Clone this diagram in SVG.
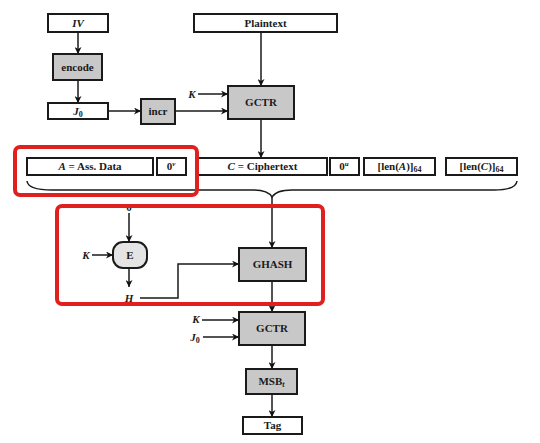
<svg xmlns="http://www.w3.org/2000/svg" width="540" height="443" viewBox="0 0 540 443">
<defs>
<marker id="ah" viewBox="0 0 10 10" refX="10" refY="5" markerWidth="7" markerHeight="7" markerUnits="userSpaceOnUse" orient="auto">
<path d="M0,0 L10,5 L0,10 L3,5 z" fill="#111"/>
</marker>
<style>
.b{fill:#fff;stroke:#1a1a1a;stroke-width:2}
.g{fill:#c8c8c8;stroke:#1a1a1a;stroke-width:2}
.e{fill:#e4e4e4;stroke:#1a1a1a;stroke-width:2}
.t{font-family:"Liberation Serif","Times New Roman",serif;font-weight:bold;font-size:11px;fill:#1a1a1a;text-anchor:middle}
.i{font-style:italic}
.c{fill:none;stroke:#1a1a1a;stroke-width:1.5}
.a{fill:none;stroke:#1a1a1a;stroke-width:1.5;marker-end:url(#ah)}
.r{fill:none;stroke:#e0201f;stroke-width:4}
</style>
</defs>
<rect width="540" height="443" fill="#fff"/>

<g id="connectors">
<line class="a" x1="78" y1="32" x2="78" y2="54"/>
<line class="a" x1="78" y1="80" x2="78" y2="103"/>
<line class="a" x1="108" y1="111" x2="141" y2="111"/>
<line class="a" x1="175" y1="111" x2="228" y2="111"/>
<line class="a" x1="198" y1="94" x2="228" y2="94"/>
<line class="a" x1="261" y1="32" x2="261" y2="86"/>
<line class="a" x1="261" y1="119" x2="261" y2="158"/>
<path class="c" d="M27,181 Q28,190 52,190 L252,190 Q268,190 272,197 Q276,190 292,190 L494,190 Q516,190 517,181"/>
<line class="a" x1="272" y1="197" x2="272" y2="248"/>
<line class="a" x1="129" y1="213" x2="129" y2="242"/>
<line class="a" x1="92" y1="255" x2="113" y2="255"/>
<line class="a" x1="129" y1="268" x2="129" y2="287"/>
<path class="a" d="M140,298 L178,298 L178,264 L239,264"/>
<line class="a" x1="272" y1="281" x2="272" y2="312"/>
<line class="a" x1="202" y1="320" x2="239" y2="320"/>
<line class="a" x1="203" y1="337" x2="239" y2="337"/>
<line class="a" x1="272" y1="345" x2="272" y2="369"/>
<line class="a" x1="272" y1="394" x2="272" y2="417"/>
</g>

<g id="iv"><rect class="b" x="48" y="14" width="60" height="18"/><text class="t i" x="78" y="27">IV</text></g>
<g id="encode"><rect class="g" x="53" y="54" width="49" height="26"/><text class="t" x="77.5" y="71">encode</text></g>
<g id="j0"><rect class="b" x="48" y="103" width="60" height="16"/><text class="t" x="78" y="115"><tspan class="i">J</tspan><tspan font-size="8" dy="2">0</tspan></text></g>
<g id="incr"><rect class="g" x="141" y="99" width="34" height="25"/><text class="t" x="158" y="115">incr</text></g>
<g id="plaintext"><rect class="b" x="194" y="14" width="143" height="18"/><text class="t" x="265.5" y="27">Plaintext</text></g>
<g id="k1"><text class="t i" x="192" y="98">K</text></g>
<g id="gctr1"><rect class="g" x="228" y="86" width="66" height="33"/><text class="t" x="261" y="106">GCTR</text></g>

<g id="adata"><rect class="b" x="27" y="158" width="126" height="17"/><text class="t" x="90" y="170"><tspan class="i">A</tspan> = Ass. Data</text></g>
<g id="zv"><rect class="b" x="157" y="158" width="29" height="17"/><text class="t" x="171" y="170">0<tspan font-size="7" dy="-4" class="i">v</tspan></text></g>
<g id="cipher"><rect class="b" x="198" y="158" width="129" height="17"/><text class="t" x="262.5" y="170"><tspan class="i">C</tspan> = Ciphertext</text></g>
<g id="zu"><rect class="b" x="330" y="158" width="29" height="17"/><text class="t" x="344" y="170">0<tspan font-size="7" dy="-4" class="i">u</tspan></text></g>
<g id="lena"><rect class="b" x="364" y="158" width="71" height="17"/><text class="t" x="399.5" y="170">[len(<tspan class="i">A</tspan>)]<tspan font-size="8" dy="2">64</tspan></text></g>
<g id="lenc"><rect class="b" x="446" y="158" width="71" height="17"/><text class="t" x="481.5" y="170">[len(<tspan class="i">C</tspan>)]<tspan font-size="8" dy="2">64</tspan></text></g>

<g id="zero"><text class="t" x="129" y="211">0</text></g>
<g id="k2"><text class="t i" x="86" y="259">K</text></g>
<g id="e"><rect class="e" x="113" y="242" width="34" height="26" rx="10"/><text class="t" x="130" y="259">E</text></g>
<g id="h"><text class="t i" x="129" y="302">H</text></g>
<g id="ghash"><rect class="g" x="239" y="248" width="67" height="33"/><text class="t" x="272.5" y="268">GHASH</text></g>

<g id="k3"><text class="t i" x="196" y="323">K</text></g>
<g id="j0b"><text class="t" x="195" y="341"><tspan class="i">J</tspan><tspan font-size="8" dy="2">0</tspan></text></g>
<g id="gctr2"><rect class="g" x="239" y="312" width="66" height="33"/><text class="t" x="272" y="332">GCTR</text></g>
<g id="msb"><rect class="g" x="246" y="369" width="51" height="25"/><text class="t" x="271.5" y="385">MSB<tspan font-size="8" dy="2" class="i">t</tspan></text></g>
<g id="tag"><rect class="b" x="243" y="417" width="59" height="17"/><text class="t" x="272.5" y="429">Tag</text></g>

<g id="highlight1"><rect class="r" x="15" y="147" width="182" height="48" rx="5"/></g>
<g id="highlight2"><rect class="r" x="57" y="206" width="266" height="98" rx="5"/></g>
</svg>
